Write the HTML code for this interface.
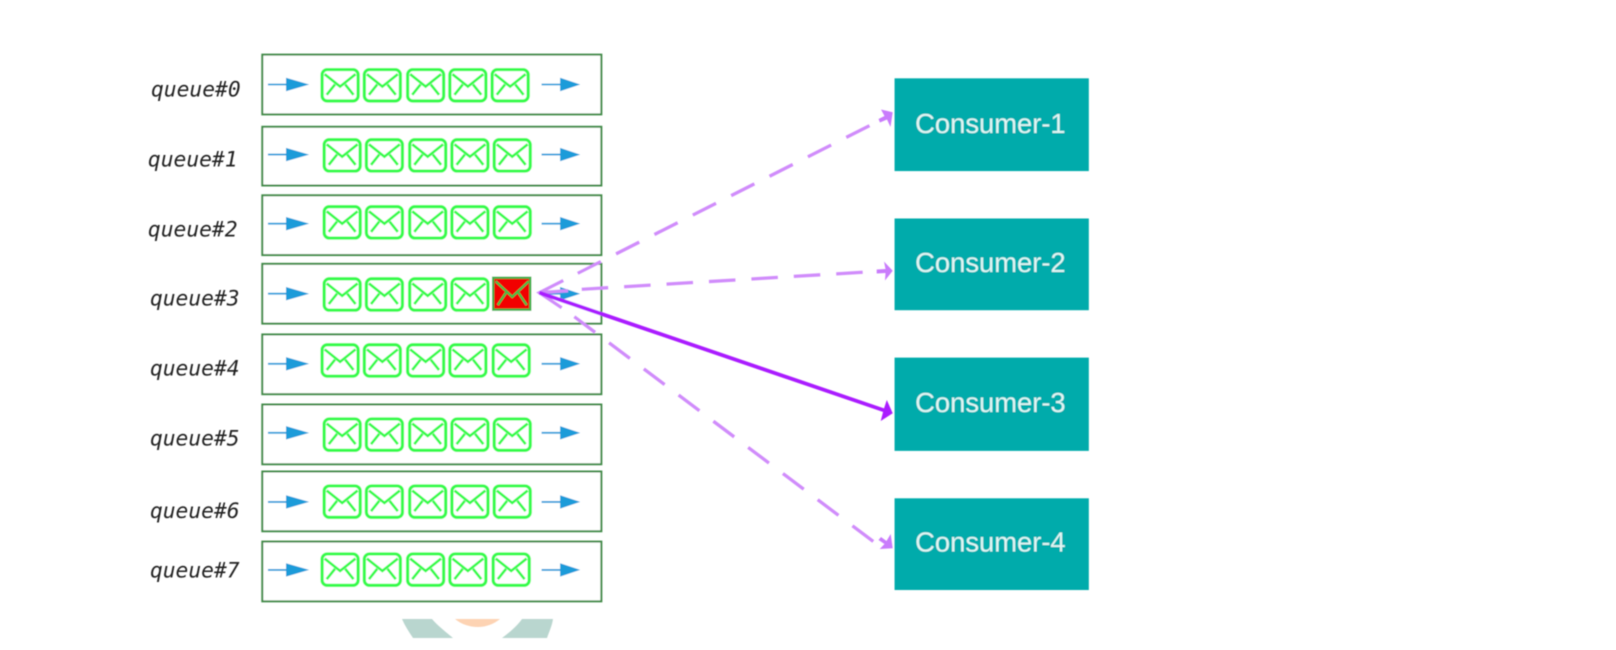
<!DOCTYPE html>
<html>
<head>
<meta charset="utf-8">
<style>
html,body{margin:0;padding:0;background:#fff;width:1616px;height:650px;overflow:hidden}
svg{display:block}
.q{font-family:"DejaVu Sans Mono","Liberation Mono",monospace;font-style:italic;font-size:21px;fill:#222}
.c{font-family:"Liberation Sans",sans-serif;font-size:26.5px;fill:#e0f6f4}
.box{fill:#fff;stroke:#3f8a46;stroke-width:1.9}
</style>
</head>
<body>
<svg width="1616" height="650" viewBox="0 0 1616 650" xmlns="http://www.w3.org/2000/svg">
<defs>
<filter id="b" x="-5%" y="-5%" width="110%" height="110%"><feGaussianBlur stdDeviation="0.55"/></filter>
<g id="env" fill="none" stroke="#36fb4c" stroke-width="3.100">
  <rect x="0.500" y="0.500" width="35" height="30.500" rx="5"/>
  <path d="M3 5L18 17L33 5M5 25L13 15M31 25L23 15" stroke-width="2.600"/>
</g>
<g id="ar">
  <path d="M0 0H20" stroke="#2a9fdc" stroke-width="1.8" fill="none"/>
  <path d="M17.500 -6.500L40 0L17.500 6.500Z" fill="#1e9bd9"/>
</g>
<g id="ar2">
  <path d="M0 0H20" stroke="#2a9fdc" stroke-width="1.8" fill="none"/>
  <path d="M18 -6.500L37.500 0L18 6.500Z" fill="#1e9bd9"/>
</g>
</defs>
<g filter="url(#b)">
<!-- watermark -->
<path d="M402 619H432C438 626 446 632 453 638H413C409 632 405 626 402 619Z" fill="#b9d6cf"/>
<path d="M522 619H553C552 626 549 632 547 638H502C510 632 517 626 522 619Z" fill="#b9d6cf"/>
<path d="M455 619H500C494 624 486 627 478 627C469 627 461 624 455 619Z" fill="#fdd3b3"/>

<g transform="scale(1.0306)">
<!-- queue boxes -->
<rect class="box" x="254.500" y="53" width="329" height="58"/>
<rect class="box" x="254.500" y="123" width="329" height="57"/>
<rect class="box" x="254.500" y="189.500" width="329" height="58"/>
<rect class="box" x="254.500" y="256" width="329" height="58"/>
<rect class="box" x="254.500" y="324.500" width="329" height="58"/>
<rect class="box" x="254.500" y="392.500" width="329" height="58"/>
<rect class="box" x="254.500" y="457.500" width="329" height="58"/>
<rect class="box" x="254.500" y="525.500" width="329" height="58"/>

<!-- labels -->
<text class="q" x="146.500" y="93.500" textLength="87" lengthAdjust="spacingAndGlyphs">queue#0</text>
<text class="q" x="143.500" y="161.500" textLength="87" lengthAdjust="spacingAndGlyphs">queue#1</text>
<text class="q" x="143.500" y="229.500" textLength="87" lengthAdjust="spacingAndGlyphs">queue#2</text>
<text class="q" x="145.500" y="296.500" textLength="87" lengthAdjust="spacingAndGlyphs">queue#3</text>
<text class="q" x="145.500" y="364.500" textLength="87" lengthAdjust="spacingAndGlyphs">queue#4</text>
<text class="q" x="145.500" y="432.500" textLength="87" lengthAdjust="spacingAndGlyphs">queue#5</text>
<text class="q" x="145.500" y="502.500" textLength="87" lengthAdjust="spacingAndGlyphs">queue#6</text>
<text class="q" x="145.500" y="560.500" textLength="87" lengthAdjust="spacingAndGlyphs">queue#7</text>

<!-- left arrows -->
<use href="#ar" x="260" y="82"/><use href="#ar" x="260" y="150"/><use href="#ar" x="260" y="217"/><use href="#ar" x="260" y="285"/>
<use href="#ar" x="260" y="353"/><use href="#ar" x="260" y="420"/><use href="#ar" x="260" y="487"/><use href="#ar" x="260" y="553"/>
<!-- right arrows -->
<use href="#ar2" x="525.500" y="82"/><use href="#ar2" x="525.500" y="150"/><use href="#ar2" x="525.500" y="217"/><use href="#ar2" x="525.500" y="285"/>
<use href="#ar2" x="525.500" y="353"/><use href="#ar2" x="525.500" y="420"/><use href="#ar2" x="525.500" y="487"/><use href="#ar2" x="525.500" y="553"/>

<!-- envelopes -->
<use href="#env" x="312" y="67"/><use href="#env" x="353" y="67"/><use href="#env" x="395" y="67"/><use href="#env" x="436" y="67"/><use href="#env" x="477" y="67"/>
<use href="#env" x="314" y="135"/><use href="#env" x="355" y="135"/><use href="#env" x="397" y="135"/><use href="#env" x="438" y="135"/><use href="#env" x="479" y="135"/>
<use href="#env" x="314" y="200"/><use href="#env" x="355" y="200"/><use href="#env" x="397" y="200"/><use href="#env" x="438" y="200"/><use href="#env" x="479" y="200"/>
<use href="#env" x="314" y="270"/><use href="#env" x="355" y="270"/><use href="#env" x="397" y="270"/><use href="#env" x="438" y="270"/>
<rect x="478.500" y="269.500" width="36" height="31" fill="#f20000" stroke="#3fb04a" stroke-width="2.200"/>
<path d="M481 273L497 288L513 273M483 296L491 284M511 296L503 284" fill="none" stroke="#3fc04a" stroke-width="2.200"/>
<use href="#env" x="312" y="334"/><use href="#env" x="353" y="334"/><use href="#env" x="395" y="334"/><use href="#env" x="436" y="334"/><use href="#env" x="478" y="334"/>
<use href="#env" x="314" y="406"/><use href="#env" x="355" y="406"/><use href="#env" x="397" y="406"/><use href="#env" x="438" y="406"/><use href="#env" x="479" y="406"/>
<use href="#env" x="314" y="471"/><use href="#env" x="355" y="471"/><use href="#env" x="397" y="471"/><use href="#env" x="438" y="471"/><use href="#env" x="479" y="471"/>
<use href="#env" x="312" y="537"/><use href="#env" x="353" y="537"/><use href="#env" x="395" y="537"/><use href="#env" x="436" y="537"/><use href="#env" x="478" y="537"/>

<!-- consumers -->
<rect x="868" y="76" width="188.500" height="90" fill="#00abab"/>
<rect x="868" y="212" width="188.500" height="89" fill="#00abab"/>
<rect x="868" y="347" width="188.500" height="90.500" fill="#00abab"/>
<rect x="868" y="483.500" width="188.500" height="89" fill="#00abab"/>
<text class="c" x="888" y="129" textLength="146" lengthAdjust="spacingAndGlyphs">Consumer-1</text>
<text class="c" x="888" y="264" textLength="146" lengthAdjust="spacingAndGlyphs">Consumer-2</text>
<text class="c" x="888" y="400" textLength="146" lengthAdjust="spacingAndGlyphs">Consumer-3</text>
<text class="c" x="888" y="535" textLength="146" lengthAdjust="spacingAndGlyphs">Consumer-4</text>
</g>

<!-- dashed connectors (page coordinates) -->
<g stroke="#d08cfb" stroke-width="3.300" fill="none">
  <path d="M577.700 273.300L879.300 120.700" stroke-dasharray="26 17"/>
  <path d="M581.700 289.300L878 271.300" stroke-dasharray="26.500 16"/>
  <path d="M574.300 316.700L878 545" stroke-dasharray="26 17.500"/>
  <path d="M563.300 280.500L539.300 292.700L561.700 307.700"/>
  <path d="M539.300 292.700L568 290.700"/>
</g>
<g fill="#c97cfc">
  <path d="M892.700 112.300L881 109.500L884.500 116L878.500 119L880 122.500L887 119.500L890.500 127Z"/>
  <path d="M892.700 270.700L884 261.500L885.500 269L876.700 269.500L876.700 273.500L885.500 273L885 280.500Z"/>
  <path d="M892.700 548.300L890.700 534L886.500 541L881 537L878.500 540L884.500 544L879.700 549Z"/>
</g>
<!-- solid connector -->
<path d="M539.300 292.700L886 411" stroke="#aa1cff" stroke-width="3.800" fill="none"/>
<path d="M892.700 413.300L886.800 400L884 408.500L880.700 421Z" fill="#aa1cff"/>
</g>
</svg>
</body>
</html>
